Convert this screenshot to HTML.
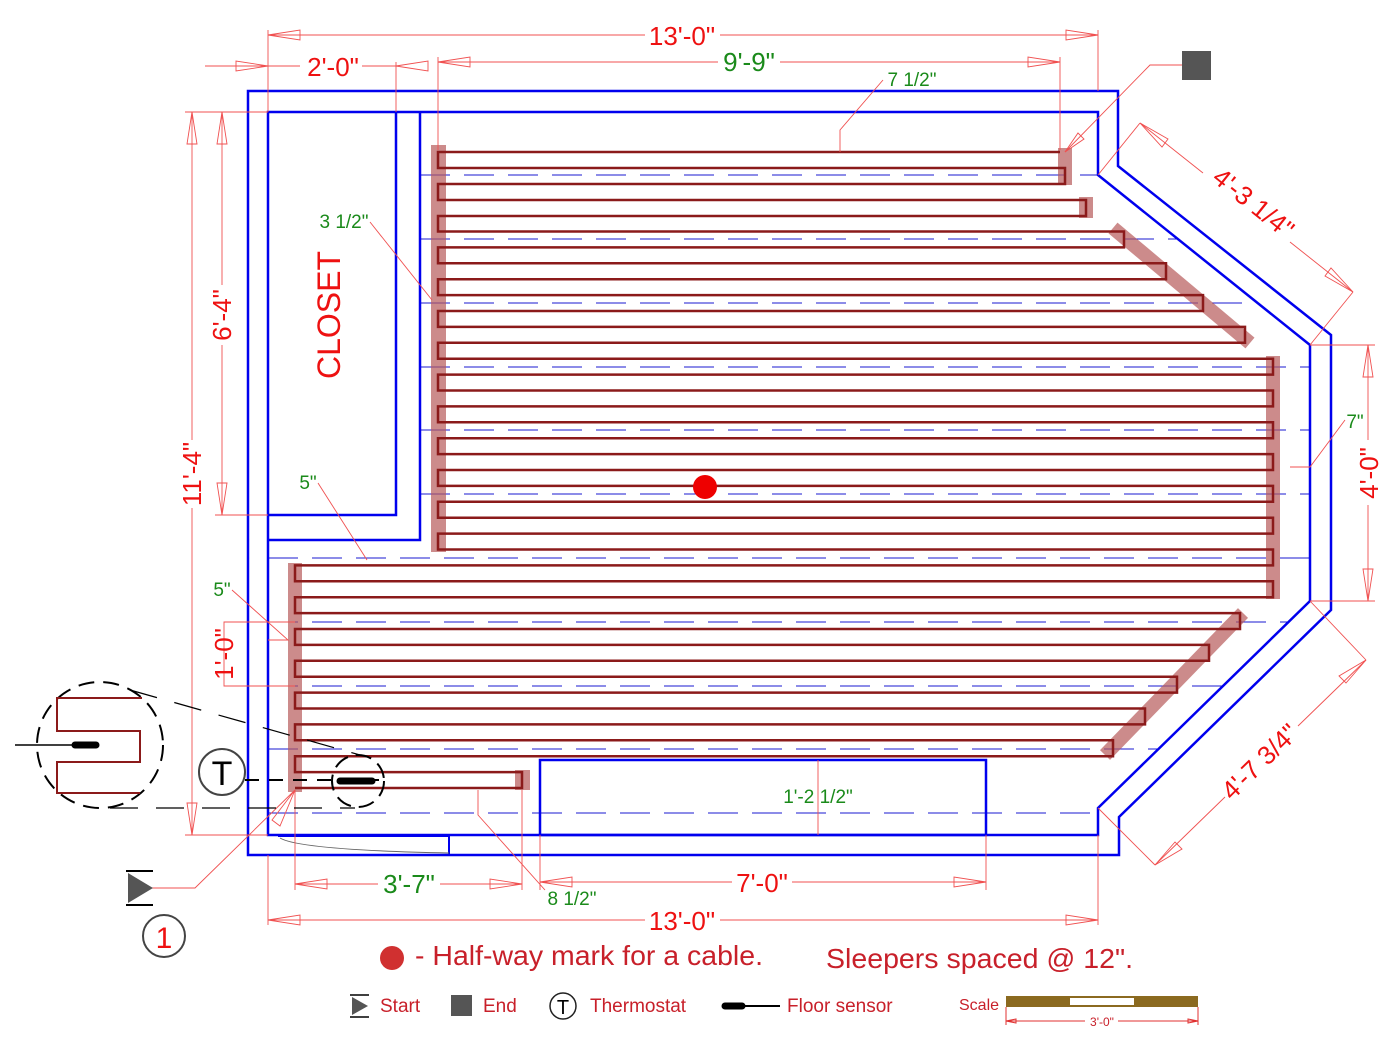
<!DOCTYPE html>
<html><head><meta charset="utf-8"><style>
html,body{margin:0;padding:0;background:#fff;}
svg{display:block;font-family:"Liberation Sans",Arial,sans-serif;}
</style></head><body>
<svg width="1400" height="1049" viewBox="0 0 1400 1049" xmlns="http://www.w3.org/2000/svg">
<g stroke="#1a1ad0" stroke-width="1" stroke-dasharray="30,14" fill="none">
<line x1="420" y1="175" x2="1098" y2="175"/>
<line x1="420" y1="239" x2="1178" y2="239"/>
<line x1="420" y1="303" x2="1258" y2="303"/>
<line x1="420" y1="367" x2="1310" y2="367"/>
<line x1="420" y1="430" x2="1310" y2="430"/>
<line x1="420" y1="494" x2="1310" y2="494"/>
<line x1="268" y1="558" x2="1310" y2="558"/>
<line x1="268" y1="622" x2="1288" y2="622"/>
<line x1="268" y1="686" x2="1223" y2="686"/>
<line x1="268" y1="749" x2="1159" y2="749"/>
<line x1="268" y1="813" x2="1098" y2="813"/>
</g>
<g fill="#b65a5a" fill-opacity="0.7" stroke="none">
<rect x="431" y="145" width="15" height="407"/>
<rect x="288" y="563" width="14" height="229"/>
<rect x="1266" y="356" width="14" height="243"/>
<rect x="1058" y="148" width="14" height="37"/>
<rect x="1079" y="197" width="14" height="21"/>
<rect x="515" y="770" width="15" height="20"/>
<line x1="1113" y1="228" x2="1250" y2="343" stroke="#b65a5a" stroke-width="14" stroke-opacity="0.7"/>
<line x1="1243" y1="613" x2="1105" y2="755" stroke="#b65a5a" stroke-width="14" stroke-opacity="0.7"/>
</g>
<path fill="none" stroke="#8b1a1a" stroke-width="2.5" d="M1060,152 H438 V168 H1065 V184 H438 V200 H1086 V216 H438 V231.5 H1124 V247.4 H438 V263.3 H1166 V279.2 H438 V295.1 H1203 V311 H438 V326.9 H1245 V342.8 H438 V358.7 H1273 V374.6 H438 V390.5 H1273 V406.4 H438 V422.3 H1273 V438.2 H438 V454.1 H1273 V470 H438 V485.9 H1273 V501.8 H438 V517.7 H1273 V533.6 H438 V549.5 H1273 V565.4 H295 V581.3 H1273 V597.2 H295 V613.1 H1240 V629 H295 V644.9 H1209 V660.8 H295 V676.7 H1177 V692.6 H295 V708.5 H1145 V724.4 H295 V740.3 H1113 V756.2 H295 V772.1 H522 V788 H295"/>
<g fill="none" stroke="#0000ee" stroke-width="2.5">
<polygon points="248,91 1118,91 1118,166 1331,335 1331,610 1119,817 1119,855 248,855"/>
<polygon points="268,112 1098,112 1098,175 1310,345 1310,601 1098,808 1098,835 268,835"/>
<polyline points="396,112 396,515 268,515"/>
<polyline points="420,112 420,540 268,540"/>
<rect x="540" y="760" width="446" height="75"/>
<polyline points="278,836 449,836 449,854" stroke-width="2"/>
</g>
<path d="M280,838 Q300,850 449,853" fill="none" stroke="#666" stroke-width="1"/>
<circle cx="705" cy="487" r="12" fill="#ee0000"/>
<g stroke="#f05050" stroke-width="0.9" fill="none">
<line x1="268" y1="30" x2="268" y2="112"/><line x1="1098" y1="30" x2="1098" y2="91"/>
<line x1="268" y1="35" x2="645" y2="35"/><line x1="720" y1="35" x2="1098" y2="35"/>
<polygon points="268,35 300,30 300,40"/><polygon points="1098,35 1066,30 1066,40"/>
<line x1="205" y1="66" x2="300" y2="66"/><line x1="362" y1="66" x2="396" y2="66"/>
<polygon points="268,66 236,61 236,71"/><polygon points="396,66 428,61 428,71"/>
<line x1="396" y1="62" x2="396" y2="112"/>
<line x1="438" y1="57" x2="438" y2="150"/><line x1="1060" y1="57" x2="1060" y2="150"/>
<line x1="438" y1="62" x2="718" y2="62"/><line x1="780" y1="62" x2="1060" y2="62"/>
<polygon points="438,62 470,57 470,67"/><polygon points="1060,62 1028,57 1028,67"/>
<polyline points="883,80 840,130 840,152"/>
<line x1="185" y1="112" x2="268" y2="112"/><line x1="215" y1="515" x2="268" y2="515"/><line x1="185" y1="835" x2="268" y2="835"/>
<line x1="192" y1="112" x2="192" y2="440"/><line x1="192" y1="508" x2="192" y2="835"/>
<polygon points="192,112 187,144 197,144"/><polygon points="192,835 187,803 197,803"/>
<line x1="222" y1="112" x2="222" y2="285"/><line x1="222" y1="345" x2="222" y2="515"/>
<polygon points="222,112 217,144 227,144"/><polygon points="222,515 217,483 227,483"/>
<polyline points="232,622 224,622 224,686 232,686"/><line x1="232" y1="622" x2="295" y2="622"/><line x1="232" y1="686" x2="295" y2="686"/>
<polyline points="370,222 432,300"/>
<polyline points="318,483 367,560"/>
<polyline points="232,590 288,640 268,640"/>
<line x1="295" y1="790" x2="295" y2="890"/><line x1="522" y1="790" x2="522" y2="890"/>
<line x1="295" y1="884" x2="378" y2="884"/><line x1="440" y1="884" x2="522" y2="884"/>
<polygon points="295,884 327,879 327,889"/><polygon points="522,884 490,879 490,889"/>
<line x1="540" y1="835" x2="540" y2="890"/><line x1="986" y1="835" x2="986" y2="890"/>
<line x1="540" y1="882" x2="732" y2="882"/><line x1="792" y1="882" x2="986" y2="882"/>
<polygon points="540,882 572,877 572,887"/><polygon points="986,882 954,877 954,887"/>
<line x1="268" y1="855" x2="268" y2="925"/><line x1="1098" y1="835" x2="1098" y2="925"/>
<line x1="268" y1="920" x2="645" y2="920"/><line x1="720" y1="920" x2="1098" y2="920"/>
<polygon points="268,920 300,915 300,925"/><polygon points="1098,920 1066,915 1066,925"/>
<polyline points="478,790 478,815 545,890"/>
<line x1="818" y1="760" x2="818" y2="835"/>
<line x1="1310" y1="345" x2="1375" y2="345"/><line x1="1310" y1="601" x2="1375" y2="601"/>
<line x1="1368" y1="345" x2="1368" y2="440"/><line x1="1368" y1="505" x2="1368" y2="601"/>
<polygon points="1368,345 1363,377 1373,377"/><polygon points="1368,601 1363,569 1373,569"/>
<polyline points="1290,467 1310,467 1345,420"/>
<line x1="1098" y1="175" x2="1140" y2="123"/><line x1="1310" y1="345" x2="1353" y2="292"/>
<line x1="1140" y1="123" x2="1203" y2="173"/><line x1="1290" y1="242" x2="1353" y2="292"/>
<polygon points="1140,123 1162,147 1168,139"/><polygon points="1353,292 1331,268 1325,276"/>
<line x1="1310" y1="601" x2="1366" y2="660"/><line x1="1098" y1="808" x2="1155" y2="865"/>
<line x1="1366" y1="660" x2="1298" y2="726"/><line x1="1225" y1="797" x2="1155" y2="865"/>
<polygon points="1366,660 1339,676 1346,683"/><polygon points="1155,865 1182,849 1175,842"/>
<polyline points="1182,65 1150,65 1065,152"/>
<polygon points="1065,152 1078,133 1084,139"/>
<polyline points="152,888 195,888 295,790"/>
<polygon points="295,790 272,820 280,826"/>
</g>
<g fill="#ee1111" font-size="26" text-anchor="middle">
<text x="682" y="45">13'-0"</text>
<text x="333" y="76">2'-0"</text>
<text x="762" y="892">7'-0"</text>
<text x="682" y="930">13'-0"</text>
<text transform="translate(201,474) rotate(-90)">11'-4"</text>
<text transform="translate(231,315) rotate(-90)">6'-4"</text>
<text transform="translate(233,654) rotate(-90)">1'-0"</text>
<text transform="translate(1378,473) rotate(-90)">4'-0"</text>
<text transform="translate(1248,210) rotate(38.7)">4'-3 1/4"</text>
<text transform="translate(1266,768) rotate(-44.3)">4'-7 3/4"</text>
<text transform="translate(340,315) rotate(-90)" font-size="32">CLOSET</text>
</g>
<g fill="#1a8a1a" font-size="19" text-anchor="middle">
<text x="749" y="71" font-size="26">9'-9"</text>
<text x="409" y="893" font-size="26">3'-7"</text>
<text x="912" y="86">7 1/2"</text>
<text x="344" y="228">3 1/2"</text>
<text x="308" y="489">5"</text>
<text x="222" y="596">5"</text>
<text x="572" y="905">8 1/2"</text>
<text x="818" y="803">1'-2 1/2"</text>
<text x="1355" y="428">7"</text>
</g>
<g stroke="#000" fill="none">
<line x1="245" y1="780" x2="380" y2="780" stroke-width="2" stroke-dasharray="14,10"/>
<circle cx="358" cy="781" r="26" stroke-width="2" stroke-dasharray="16,8"/>
<line x1="340" y1="781" x2="372" y2="781" stroke-width="7" stroke-linecap="round"/>
<circle cx="100" cy="745" r="63" stroke-width="2" stroke-dasharray="16,9"/>
<line x1="130" y1="690" x2="360" y2="755" stroke-width="1.2" stroke-dasharray="28,18"/>
<line x1="110" y1="808" x2="355" y2="808" stroke-width="1.2" stroke-dasharray="28,18"/>
<line x1="15" y1="745" x2="75" y2="745" stroke-width="1.5"/>
<line x1="75" y1="745" x2="96" y2="745" stroke-width="7" stroke-linecap="round"/>
</g>
<polyline points="142,698 57,698 57,731 140,731 140,762 57,762 57,793 140,793" fill="none" stroke="#8b1a1a" stroke-width="2"/>
<circle cx="222" cy="772" r="23" fill="#fff" stroke="#444" stroke-width="2"/>
<text x="222" y="785" font-size="34" text-anchor="middle" fill="#000">T</text>
<rect x="1182" y="51" width="29" height="29" fill="#555"/>
<polygon points="128,873 153,888 128,903" fill="#555"/>
<line x1="126" y1="871" x2="153" y2="871" stroke="#000" stroke-width="2"/>
<line x1="126" y1="905" x2="153" y2="905" stroke="#000" stroke-width="2"/>
<circle cx="164" cy="936" r="21" fill="none" stroke="#444" stroke-width="2"/>
<text x="164" y="948" font-size="30" text-anchor="middle" fill="#ee1111">1</text>
<circle cx="392" cy="958" r="12" fill="#d03030"/>
<text x="415" y="965" font-size="28" fill="#c8202a" textLength="348" lengthAdjust="spacingAndGlyphs">- Half-way mark for a cable.</text>
<text x="826" y="968" font-size="28" fill="#c8202a" textLength="307" lengthAdjust="spacingAndGlyphs">Sleepers spaced @ 12".</text>
<polygon points="352,997 368,1006 352,1015" fill="#555"/>
<line x1="350" y1="995" x2="369" y2="995" stroke="#000" stroke-width="1.5"/>
<line x1="350" y1="1017" x2="369" y2="1017" stroke="#000" stroke-width="1.5"/>
<g font-size="19" fill="#c8202a">
<text x="380" y="1012">Start</text>
<text x="483" y="1012">End</text>
<text x="590" y="1012">Thermostat</text>
<text x="787" y="1012">Floor sensor</text>
<text x="959" y="1010" font-size="16">Scale</text>
</g>
<rect x="451" y="995" width="21" height="21" fill="#555"/>
<circle cx="563" cy="1006" r="13" fill="none" stroke="#222" stroke-width="1.5"/>
<text x="563" y="1014" font-size="20" text-anchor="middle">T</text>
<line x1="740" y1="1006" x2="780" y2="1006" stroke="#000" stroke-width="2"/>
<line x1="725" y1="1006" x2="742" y2="1006" stroke="#000" stroke-width="7" stroke-linecap="round"/>
<rect x="1006" y="996" width="192" height="11" fill="#8b6a20"/>
<rect x="1070" y="998" width="64" height="7" fill="#fff"/>
<g stroke="#e03030" stroke-width="1" fill="none">
<line x1="1006" y1="1007" x2="1006" y2="1025"/><line x1="1198" y1="1007" x2="1198" y2="1025"/>
<line x1="1006" y1="1021" x2="1085" y2="1021"/><line x1="1118" y1="1021" x2="1198" y2="1021"/>
<polygon points="1006,1021 1016,1019 1016,1023"/><polygon points="1198,1021 1188,1019 1188,1023"/>
</g>
<text x="1102" y="1026" font-size="12" text-anchor="middle" fill="#c8202a">3'-0"</text>
</svg>
</body></html>
